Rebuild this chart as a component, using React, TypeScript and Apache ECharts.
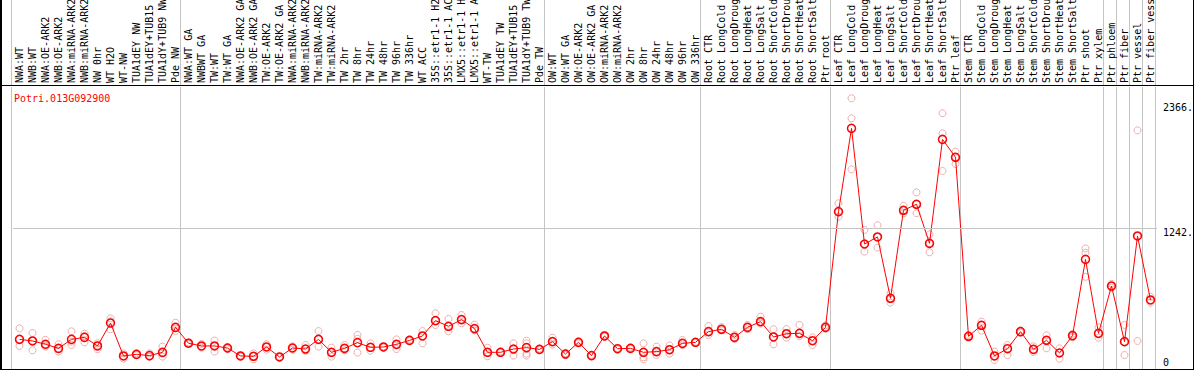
import React, { useEffect, useRef } from 'react';
import * as echarts from 'echarts';

const geneId = 'Potri.013G092900';

const categories = [
  'NWA:WT', 'NWB:WT', 'NWA:OE-ARK2', 'NWB:OE-ARK2', 'NWA:miRNA-ARK2', 'NWB:miRNA-ARK2',
  'NW 0hr', 'WT H2O', 'WT-NW', 'TUA1dEY NW', 'TUA1dEY+TUB15 NW', 'TUA1dY+TUB9 NW', 'Pde NW',
  'NWA:WT GA', 'NWBWT GA', 'TW:WT', 'TW:WT GA', 'NWA:OE-ARK2 GA', 'NWB:OE-ARK2 GA',
  'TW:OE-ARK2', 'TW:OE-ARK2 GA', 'NWA:miRNA-ARK2', 'NWB:miRNA-ARK2', 'TW:miRNA-ARK2',
  'TW:miRNA-ARK2', 'TW 2hr', 'TW 8hr', 'TW 24hr', 'TW 48hr', 'TW 96hr', 'TW 336hr', 'WT ACC',
  '35S::etr1-1 H2O', '35S::etr1-1 ACC', 'LMX5::etr1-1 H2O', 'LMX5::etr1-1 ACC', 'WT-TW',
  'TUA1dEY TW', 'TUA1dEY+TUB15 TW', 'TUA1dY+TUB9 TW', 'Pde TW',
  'OW:WT', 'OW:WT GA', 'OW:OE-ARK2', 'OW:OE-ARK2 GA', 'OW:miRNA-ARK2', 'OW:miRNA-ARK2',
  'OW 2hr', 'OW 8hr', 'OW 24hr', 'OW 48hr', 'OW 96hr', 'OW 336hr',
  'Root CTR', 'Root LongCold', 'Root LongDrought', 'Root LongHeat', 'Root LongSalt',
  'Root ShortCold', 'Root ShortDrought', 'Root ShortHeat', 'Root ShortSalt', 'Ptr root',
  'Leaf CTR', 'Leaf LongCold', 'Leaf LongDrought', 'Leaf LongHeat', 'Leaf LongSalt',
  'Leaf ShortCold', 'Leaf ShortDrought', 'Leaf ShortHeat', 'Leaf ShortSalt', 'Ptr leaf',
  'Stem CTR', 'Stem LongCold', 'Stem LongDrought', 'Stem LongHeat', 'Stem LongSalt',
  'Stem ShortCold', 'Stem ShortDrought', 'Stem ShortHeat', 'Stem ShortSalt', 'Ptr shoot',
  'Ptr xylem', 'Ptr phloem', 'Ptr fiber', 'Ptr vessel', 'Ptr fiber vessel',
];

const means = [
  261, 247, 218, 182, 261, 279, 203, 405, 115, 129, 118, 147, 367,
  227, 203, 203, 185, 115, 112, 194, 106, 185, 176, 261, 147, 182, 232, 191, 194, 217, 252, 291,
  426, 376, 435, 356, 147, 147, 176, 188, 173,
  241, 132, 235, 118, 291, 179, 182, 147, 153, 170, 226, 235,
  329, 350, 279, 367, 417, 282, 311, 314, 249, 367,
  1386, 2120, 1101, 1163, 623, 1398, 1451, 1107, 2023, 1865,
  288, 385, 115, 179, 329, 173, 253, 141, 294, 966, 314,
  731, 241, 1172, 608,
];

const replicates = [
  [358, 262, 203], [317, 250, 164], [256, 210, 197], [218, 175, 153], [332, 240, 212],
  [311, 290, 235], [227, 210, 174], [446, 420, 350], [138, 115, 91], [138, 125, 122],
  [138, 109, 108], [197, 135, 109], [408, 358, 335],
  [235, 227, 220], [221, 200, 188], [250, 203, 153], [195, 185, 175], [120, 115, 110],
  [138, 112, 85], [218, 194, 170], [110, 106, 102], [200, 185, 170], [211, 176, 160],
  [334, 261, 197], [188, 147, 109], [211, 182, 165], [300, 265, 144], [226, 191, 161],
  [200, 194, 188], [261, 217, 176], [260, 252, 245], [334, 291, 226], [491, 426, 388],
  [441, 376, 332], [476, 435, 403], [391, 356, 340], [188, 147, 112], [155, 147, 140],
  [226, 176, 118], [249, 226, 135, 118], [180, 173, 166],
  [276, 241, 215], [140, 132, 125], [245, 235, 225], [125, 118, 112], [300, 291, 282],
  [185, 179, 172], [190, 182, 175], [226, 147, 103, 85], [197, 153, 123], [208, 170, 135],
  [255, 226, 210], [240, 235, 230],
  [379, 329, 300], [370, 350, 340], [300, 279, 265], [388, 367, 350], [461, 417, 400],
  [350, 282, 217], [352, 311, 276], [388, 314, 290], [279, 249, 211], [385, 367, 355],
  [1460, 1386, 1342], [2385, 2208, 1759], [1225, 1101, 1034], [1266, 1163, 1069],
  [667, 623, 584], [1437, 1398, 1372], [1556, 1451, 1372], [1186, 1107, 1028],
  [2253, 2076, 1744], [1915, 1865, 1806],
  [300, 288, 275], [417, 385, 338], [153, 115, 79], [211, 179, 123], [340, 329, 318],
  [200, 173, 150], [297, 253, 182], [182, 141, 91], [310, 294, 280], [1062, 1024, 812],
  [367, 314, 276],
  [750, 731, 715], [388, 241, 123], [2102, 1172, 247], [637, 608, 584],
];

// index of the first category of each group (vertical separators)
const groupStarts = [0, 13, 41, 53, 63, 73, 84, 85, 86, 87];

const yTicks = [0, 1242, 2366];
const yMax = 2484;

export default function App() {
  const ref = useRef<HTMLDivElement>(null);

  useEffect(() => {
    document.body.style.margin = '0';
    const chart = echarts.init(ref.current as HTMLDivElement, null, { renderer: 'svg' });
    const font = 'DejaVu Sans Mono';
    const gridGray = '#c4c4c4';
    const splitInterval = (idx: number) => groupStarts.indexOf(idx) >= 0;

    const repData: number[][] = [];
    replicates.forEach((arr, i) => arr.forEach((v) => repData.push([i, v])));

    const sepAxis = (gridIndex: number) => ({
      type: 'category',
      gridIndex,
      data: categories,
      axisLine: { show: false },
      axisTick: { show: false },
      axisLabel: { show: false },
      splitLine: { show: true, interval: splitInterval, lineStyle: { color: gridGray, width: 1 } },
    });

    chart.setOption({
      animation: false,
      backgroundColor: '#ffffff',
      title: {
        text: geneId,
        left: 9,
        top: 88,
        textStyle: { color: '#ff0000', fontSize: 10, fontFamily: font, fontWeight: 'normal' },
      },
      grid: [
        { left: 13, right: 37, top: 87, bottom: 1, outerBoundsMode: 'none', containLabel: false },
        { left: 11, right: 39, top: 0, height: 85, outerBoundsMode: 'none', containLabel: false },
        { left: 11, right: 39, top: 87, bottom: 1, outerBoundsMode: 'none', containLabel: false },
      ],
      xAxis: [
        {
          type: 'category',
          gridIndex: 0,
          data: categories,
          position: 'top',
          axisLine: { show: false },
          axisTick: { show: false },
          axisLabel: {
            rotate: 90,
            interval: 0,
            margin: 4,
            align: 'left',
            verticalAlign: 'middle',
            fontSize: 10,
            fontFamily: font,
            color: '#000000',
          },
          splitLine: { show: false },
        },
        sepAxis(1),
        sepAxis(2),
      ],
      yAxis: [
        {
          type: 'value',
          gridIndex: 0,
          position: 'right',
          min: 0,
          max: yMax,
          splitLine: { show: false },
          axisLine: { show: false },
          axisTick: { show: false },
          axisLabel: {
            customValues: yTicks,
            margin: 6,
            fontSize: 10,
            fontFamily: font,
            color: '#000000',
            formatter: (v: number) =>
              v === 0 ? '{z|0}' : v === yTicks[yTicks.length - 1] ? `{t|${v}.}` : `{m|${v}.}`,
            rich: {
              t: { fontSize: 10, fontFamily: font, color: '#000000', padding: [14, 0, 0, 0] },
              m: { fontSize: 10, fontFamily: font, color: '#000000', padding: [9, 0, 0, 0] },
              z: { fontSize: 10, fontFamily: font, color: '#000000', padding: [0, 0, 13, 0] },
            },
          },
        },
        { type: 'value', gridIndex: 1, show: false, min: 0, max: 1 },
        { type: 'value', gridIndex: 2, show: false, min: 0, max: 1 },
      ],
      series: [
        {
          type: 'line',
          xAxisIndex: 0,
          yAxisIndex: 0,
          data: [],
          silent: true,
          z: 1,
          markLine: {
            silent: true,
            symbol: 'none',
            label: { show: false },
            lineStyle: { color: gridGray, type: 'solid', width: 1 },
            data: [{ yAxis: yTicks[1] }],
          },
        },
        {
          type: 'scatter',
          xAxisIndex: 0,
          yAxisIndex: 0,
          data: repData,
          symbol: 'circle',
          symbolSize: 7,
          silent: true,
          z: 3,
          itemStyle: { color: 'rgba(0,0,0,0)', borderColor: '#e89a9a', borderWidth: 1 },
        },
        {
          type: 'line',
          xAxisIndex: 0,
          yAxisIndex: 0,
          data: means,
          symbol: 'circle',
          symbolSize: 8,
          showAllSymbol: true,
          silent: true,
          z: 4,
          lineStyle: { color: '#ff0000', width: 1 },
          itemStyle: { color: 'rgba(0,0,0,0)', borderColor: '#ff0000', borderWidth: 1.5 },
        },
      ],
      graphic: [
        { type: 'line', z: 100, shape: { x1: 1, y1: 0, x2: 1, y2: 370 }, style: { stroke: '#000', lineWidth: 2 } },
        { type: 'line', z: 100, shape: { x1: 1193.5, y1: 0, x2: 1193.5, y2: 370 }, style: { stroke: '#000', lineWidth: 1 } },
        { type: 'line', z: 100, shape: { x1: 0, y1: 85.5, x2: 1194, y2: 85.5 }, style: { stroke: '#000', lineWidth: 1 } },
        { type: 'line', z: 100, shape: { x1: 0, y1: 369.5, x2: 1194, y2: 369.5 }, style: { stroke: '#000', lineWidth: 1 } },
      ],
    });

    return () => {
      chart.dispose();
    };
  }, []);

  return <div ref={ref} style={{ width: 1194, height: 370 }} />;
}
